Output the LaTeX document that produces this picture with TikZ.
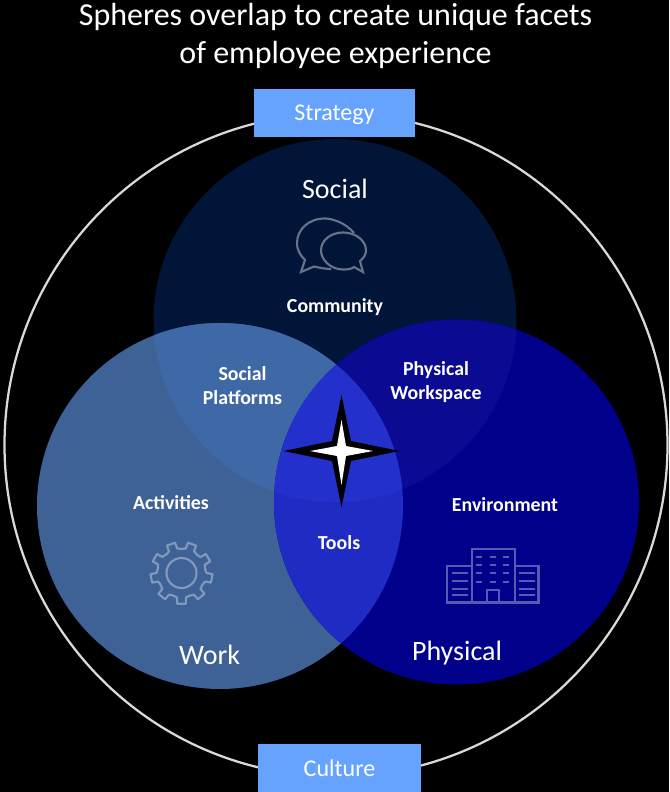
\documentclass[tikz,border=0pt]{standalone}
\usepackage{fontspec}
\setmainfont{Carlito}
\definecolor{socialc}{HTML}{001538}
\definecolor{workc}{HTML}{3F6296}
\definecolor{physc}{HTML}{00008B}
\definecolor{swc}{HTML}{3F69A6}
\definecolor{spc}{HTML}{0A0A92}
\definecolor{wpc}{HTML}{1F2BC2}
\definecolor{allc}{HTML}{2430CC}
\definecolor{tagc}{HTML}{66A3FF}
\definecolor{ringc}{HTML}{D9D9D9}
\tikzset{
  lbl/.style={text=white,font=\bfseries\fontsize{14.9}{18}\selectfont,align=center,inner sep=0pt},
  sph/.style={text=white,font=\fontsize{21}{25}\selectfont,inner sep=0pt},
  tag/.style={fill=tagc,minimum height=36pt,inner sep=0pt},
  tagtext/.style={text=white,font=\fontsize{18}{22}\selectfont,inner sep=0pt},
  iconline/.style={line width=1.6pt,line join=miter}
}
\begin{document}
\begin{tikzpicture}[x=0.75pt,y=-0.75pt]
\useasboundingbox[fill=black] (0,0) rectangle (669,792);
% outer ring
\coordinate (ringc) at (336,445);
\draw[ringc,line width=1.7pt] (ringc) circle[radius=331.5*0.75pt];
% spheres
\def\pS{(335,320.5) circle[radius=181.5*0.75pt]}
\def\pW{(220,506) circle[radius=183*0.75pt]}
\def\pP{(456.5,502) circle[radius=182.5*0.75pt]}
\fill[socialc] \pS;
\fill[workc] \pW;
\fill[physc] \pP;
\begin{scope}\clip \pS; \fill[swc] \pW; \fill[spc] \pP; \end{scope}
\begin{scope}\clip \pW; \fill[wpc] \pP; \end{scope}
\begin{scope}\clip \pS; \clip \pW; \fill[allc] \pP; \end{scope}
% title
\node[text=white,font=\fontsize{24}{28.5}\selectfont,align=center,inner sep=0pt] (title) at (335.5,36) {Spheres overlap to create unique facets\\of employee experience};
% tags
\node[tag,minimum width=120.5pt] (strategy) at (334.2,113.2) {};
\node[tagtext] (strategyt) at (334.5,115) {Strategy};
\node[tag,minimum width=122pt] (culture) at (339.5,767.5) {};
\node[tagtext] (culturet) at (339.5,768.5) {Culture};
% labels
\node[sph] (social) at (335,189) {Social};
\node[sph] (work) at (209.5,655) {Work};
\node[sph] (physical) at (457,653) {Physical};
\node[lbl] (community) at (335,307.5) {Community};
\node[lbl] (platforms) at (242.5,385.5) {Social\\Platforms};
\node[lbl] (workspace) at (436,382.5) {Physical\\Workspace};
\node[lbl] (activities) at (171,503) {Activities};
\node[lbl] (tools) at (339,543) {Tools};
\node[lbl] (environment) at (505,505) {Environment};
% star
\fill[black] (341.5,395) -- (332,441) -- (283.5,451) -- (332,461) -- (341.5,507) -- (351,461) -- (399.5,451) -- (351,441) -- cycle;
\fill[white] (341.5,420) -- (337,446) -- (310,451) -- (337,456) -- (341.5,485) -- (346,456) -- (373,451) -- (346,446) -- cycle;
% chat icon
\draw[iconline,color=white!40!socialc]
  (354,233) .. controls (345,222) and (331,218.5) .. (325,218.5)
  .. controls (308,218.5) and (297,230) .. (297,243)
  .. controls (297,251) and (301,256) .. (305,260)
  -- (301,272) -- (314,266.5)
  .. controls (320,268) and (327,269) .. (331,269);
\draw[iconline,color=white!40!socialc]
  (343,232.5) .. controls (331,232.5) and (321,240) .. (321,250.5)
  .. controls (321,260) and (331,269.5) .. (343,269.5)
  .. controls (348,269.5) and (352,269) .. (354,267)
  -- (363,272) -- (360,261)
  .. controls (364,258) and (366,254) .. (366,250.5)
  .. controls (366,240) and (355,232.5) .. (343,232.5) -- cycle;
% gear icon
\begin{scope}[shift={(181.5,573)}]
\draw[iconline,color=white!35!workc] (0,0) circle[radius=15*0.75pt];
\draw[iconline,color=white!35!workc,line join=round]
 \foreach \k in {0,...,8} {
   \ifnum\k=0 ({-90+40*\k-22}:{24*0.75pt}) \else -- ({-90+40*\k-22}:{24*0.75pt}) \fi
   -- ({-90+40*\k-10}:{25*0.75pt}) -- ({-90+40*\k-8}:{31*0.75pt}) -- ({-90+40*\k+8}:{31*0.75pt}) -- ({-90+40*\k+10}:{25*0.75pt})
 } -- cycle;
\end{scope}
% building icon
\begin{scope}[color=white!35!physc,iconline]
\draw (472,566) -- (472,549) -- (515,549) -- (515,602.5) -- (472,602.5) -- cycle;
\draw (472,566) -- (447,566) -- (447,602.5) -- (472,602.5);
\draw (515,566) -- (538.5,566) -- (538.5,602.5) -- (515,602.5);
\draw (487,602.5) -- (487,590) -- (499,590) -- (499,602.5);
\foreach \yy in {573,581,589,595} {
 \draw (452,\yy) -- (468,\yy);
 \draw (519,\yy) -- (534.5,\yy);
}
\foreach \yy in {557,565,573,582} \foreach \xx in {476,490,503} {
 \draw[line width=1.4pt] (\xx,\yy) -- ++(6,0);
}
\end{scope}
\end{tikzpicture}
\end{document}
